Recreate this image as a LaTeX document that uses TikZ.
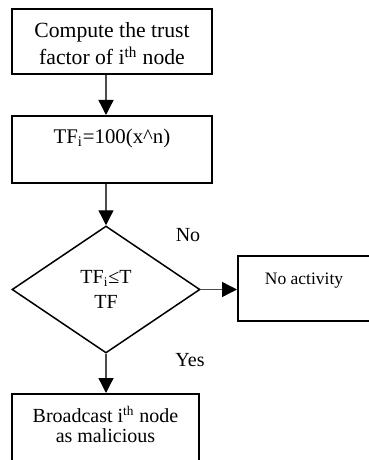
\documentclass[tikz,border=0pt]{standalone}
\usepackage{fontspec}
\setmainfont{Liberation Serif}
\usetikzlibrary{shapes.geometric,arrows.meta}

\tikzset{
  procbox/.style={draw, line width=1.2pt, inner sep=0pt, align=center},
  decbox/.style={draw, diamond, line width=0.9pt, inner sep=0pt, align=center,
    minimum width=112.8pt, minimum height=76.2pt},
  flowarrow/.style={draw=black!70, line width=0.8pt,
    -{Triangle[width=9pt,length=9pt,color=black]}},
}

\begin{document}
\begin{tikzpicture}[x=0.6pt, y=-0.6pt, font=\fontsize{12}{15}\selectfont]
    \useasboundingbox (0,0) rectangle (368,460);

    % Process boxes
    \node[procbox, anchor=north, minimum width=120pt, text height=33.2pt, text depth=5.8pt,
          font=\fontsize{13}{16}\selectfont] (trust) at (112,8)
          {Compute the trust\\factor of i\textsuperscript{th} node};
    \node[procbox, anchor=north, minimum width=120pt, text height=16.8pt, text depth=23.4pt,
          font=\fontsize{12.5}{15}\selectfont] (rate) at (112,115)
          {TF\textsubscript{i}=100(x\textasciicircum n)};

    % Decision
    \node[decbox] (check) at (106,289.5) {TF\textsubscript{i}≤T\\TF};
    \node (nolbl) at (188,235) {No};
    \node (yeslbl) at (190,360) {Yes};

    % Outcomes
    \node[procbox, anchor=north, minimum width=79.2pt, text height=16.8pt, text depth=22.2pt,
          font=\fontsize{10.5}{13}\selectfont] (idle) at (304,255) {No activity};
    \node[procbox, anchor=north, minimum width=112.2pt, text height=29.2pt, text depth=14pt,
          font=\fontsize{12}{12}\selectfont] (bcast) at (105.5,393)
          {Broadcast i\textsuperscript{th} node\\as malicious};

    % Flow
    \draw[flowarrow] (trust.south -| check.north) -- (rate.north -| check.north);
    \draw[flowarrow] (rate.south -| check.north) -- (check.north);
    \draw[flowarrow] (check.east) -- (check.east -| idle.west);
    \draw[flowarrow] (check.south) -- (bcast.north -| check.south);
\end{tikzpicture}
\end{document}
